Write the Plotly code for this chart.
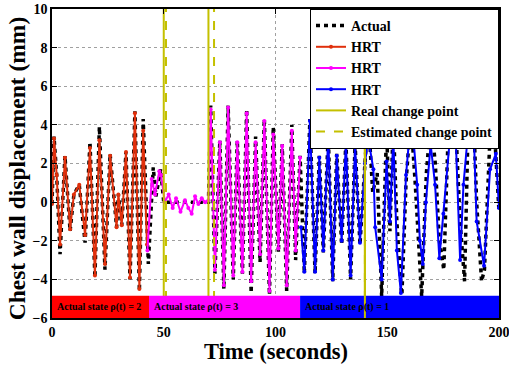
import plotly.graph_objects as go

# ---------------- data ----------------
# Actual chest wall displacement (vertices of the dashed black curve)
actual_t = [0, 0.9, 2.1, 3.6, 5.8, 8.1, 9.8, 12.2, 14.8, 17, 19.2, 21.2, 23.7, 26, 28.9, 29.7, 31.2,
            33.1, 34.9, 37.1, 39.1, 40.8, 43.1, 45.3, 46.5, 48.6, 50, 60, 70,
            71, 72.9, 75.1, 76.9, 78.8, 81.1, 82.9, 85.2, 87.1, 89.1, 91.1, 93.1, 95, 97.3, 99,
            101.3, 103, 105, 107.3, 109, 111, 112.9, 115.4, 117.7, 119.6, 121.4, 123.6, 125.6,
            127.4, 129.6, 131.5, 133.6, 135.6, 137.8, 140,
            141.5, 143.5, 145.5, 147.5, 149.7, 151.2, 152.7, 154.3, 156.5, 158.4, 160.5, 162.5,
            163.6, 165.4, 167.5, 169.5, 171.5, 173.3, 175.3, 177.5, 180.4, 182.6, 184.6, 186.3,
            188.6, 190, 192.2, 193.5, 196, 198.3, 200]
actual_v = [-0.1, 3.4, 1.4, -2.7, 2.4, -1.5, 0.4, 0.9, -2.1, 3.1, -3.9, 3.9, -3.5, 2.5, -1.3, 0.4, -1.2,
            2.6, -4.0, 4.7, -4.6, 4.3, -3.2, 1.8, 0.3, 1.7, 0.0, 0.0, 0.0,
            5.0, -3.7, 3.2, -4.5, 5.0, -4.0, 3.2, -3.7, 4.8, -4.7, 3.4, -3.1, 4.3, -4.8, 3.9,
            -2.6, 3.0, -4.6, 4.0, -3.0, 2.4, -3.7, 4.3, -3.7, 2.4, -2.6, 3.5, -4.1,
            2.5, -2.2, 3.2, -4.0, 3.0, -2.2, 2.0,
            4.5, 0.5, 1.5, -4.9, 3.8, -1.5, 4.2, -1.0, -5.0, 1.0, 4.4, 1.0,
            -1.5, -4.9, 1.5, 4.3, 2.0, -2.0, -3.5, 4.4, 4.5, -1.0, -4.1, 4.5,
            4.5, 0.0, -4.1, -3.5, 3.5, 3.0, -0.5]

# HRT prediction, state 2 (red)
hrt2_t = [0, 0.9, 2.1, 3.6, 5.8, 8.1, 9.8, 12.2, 14.8, 17, 19.2, 21.2, 23.7, 26, 28.9, 29.7, 31.2,
          33.1, 34.9, 37.1, 39.1, 40.8, 42.5]
hrt2_v = [-0.1, 3.3, 1.4, -2.2, 2.3, -1.4, 0.4, 0.9, -1.7, 2.8, -3.8, 3.2, -3.2, 2.4, -1.3, 0.4, -1.2,
          2.6, -3.9, 4.6, -4.5, 3.7, -2.2]

# HRT prediction, state 3 (magenta)
hrt3_t = [42.7, 44.6, 46.1, 48.0, 48.8, 50.5, 52.2, 54.0, 55.5, 57.5, 59.5, 61.0, 62.5, 64.0, 65.5,
          67.0, 68.5, 70, 71, 72.9, 75.1, 76.9, 78.8, 81.1, 82.9, 85.2, 87.1, 89.1, 91.1, 93.1, 95,
          97.3, 99, 101.3, 103, 105, 107.3, 109, 111]
hrt3_v = [-2.5, 1.2, 0.4, 1.6, 1.4, 0.0, 0.4, -0.3, 0.2, -0.5, 0.1, -0.3, -0.6, 0.3, -0.1, 0.2,
          0.0, 0.1, 4.8, -3.5, 3.1, -4.3, 4.9, -3.8, 3.1, -3.6, 4.6, -4.1, 3.1, -2.7, 4.2,
          -4.6, 3.5, -2.4, 2.9, -4.3, 3.7, -2.5, 2.3]

# HRT prediction, state 1 (blue)
hrt1_t = [111.4, 112.9, 115.4, 117.7, 119.6, 121.4, 123.6, 125.6, 127.4, 129.6, 131.5, 133.6, 135.6,
          137.8, 140, 141.5, 143.8, 144.6, 147.5, 149.7, 151.2, 152.7, 154.3, 156.1, 158.4, 160.2,
          161.7, 163.4, 164.6, 165.9, 167.3, 169.4, 171.4, 173.3, 175.1, 177.8, 180.4, 182.6,
          184.1, 186.3, 188.6, 190, 193.3, 196, 198.6, 200]
hrt1_v = [-1.3, -3.6, 4.2, -3.6, 2.3, -2.5, 3.4, -4.0, 2.4, -2.0, 3.1, -3.8, 2.9,
          -2.1, 2.0, 3.3, 1.7, -1.3, -4.0, 2.1, -1.0, 3.4, -2.5, -4.7, 1.4, 3.8,
          3.3, 0.9, -2.0, -3.2, 0.0, 3.0, 0.9, -2.9, -0.6, 3.0, 4.1, -3.0,
          0.9, 3.8, 4.0, -1.0, -3.3, 1.7, 2.5, -0.3]

real_cp = [50, 70, 140]
est_cp = [51, 72.5, 140]

state_labels = ["Actual state \u03c1(t) = 2", "Actual state \u03c1(t) = 3", "Actual state \u03c1(t) = 1"]
state_start = [0, 43.4, 111]
state_end = [43.4, 111, 200]
state_colors = ["#ff0000", "#ff00ff", "#0000ff"]

x_ticks = [0, 50, 100, 150, 200]
y_ticks = [-6, -4, -2, 0, 2, 4, 6, 8, 10]
y_min, y_max = -6, 10
band_top = -4.85

SERIF = "Liberation Serif"
CP_COLOR = "#c4c000"

fig = go.Figure()

fig.add_trace(go.Scatter(x=actual_t, y=actual_v, mode="lines", name="Actual",
                         line=dict(color="black", width=3.5, dash="4px,4px")))
fig.add_trace(go.Scatter(x=hrt2_t, y=hrt2_v, mode="lines+markers", name="HRT",
                         line=dict(color="#e0300c", width=2), marker=dict(size=4)))
fig.add_trace(go.Scatter(x=hrt3_t, y=hrt3_v, mode="lines+markers", name="HRT",
                         line=dict(color="#ff00ff", width=2), marker=dict(size=4)))
fig.add_trace(go.Scatter(x=hrt1_t, y=hrt1_v, mode="lines+markers", name="HRT",
                         line=dict(color="#0000ff", width=2), marker=dict(size=4)))

rx, ry = [], []
for c in real_cp:
    rx += [c, c, None]
    ry += [y_min, y_max, None]
ex, ey = [], []
for c in est_cp:
    ex += [c, c, None]
    ey += [y_min, y_max, None]
fig.add_trace(go.Scatter(x=rx, y=ry, mode="lines", name="Real change point",
                         line=dict(color=CP_COLOR, width=2)))
fig.add_trace(go.Scatter(x=ex, y=ey, mode="lines", name="Estimated change point",
                         line=dict(color=CP_COLOR, width=2, dash="dash")))

# state bands drawn above traces
for s, e, col, lab in zip(state_start, state_end, state_colors, state_labels):
    fig.add_shape(type="rect", x0=s, x1=e, y0=y_min, y1=band_top, xref="x", yref="y",
                  fillcolor=col, line=dict(width=0), layer="above")
    fig.add_annotation(x=s + 1.2, y=(y_min + band_top) / 2, xref="x", yref="y", text="<b>" + lab + "</b>",
                       showarrow=False, xanchor="left", yanchor="middle",
                       font=dict(family=SERIF, size=10, color="black"))
# the last change point line shows over the band
fig.add_shape(type="line", x0=real_cp[2], x1=real_cp[2], y0=y_min, y1=y_max, xref="x", yref="y",
              line=dict(color=CP_COLOR, width=2), layer="above")

# axis titles
fig.add_annotation(x=0.5, y=-0.11, xref="paper", yref="paper", text="<b>Time (seconds)</b>",
                   showarrow=False, xanchor="center", yanchor="middle",
                   font=dict(family=SERIF, size=22.5, color="black"))
fig.add_annotation(x=-0.078, y=0.485, xref="paper", yref="paper", text="<b>Chest wall displacement (mm)</b>",
                   showarrow=False, xanchor="center", yanchor="middle", textangle=-90,
                   font=dict(family=SERIF, size=23.5, color="black"))

axis_common = dict(showline=True, linecolor="black", linewidth=1.5, mirror="ticks",
                   ticks="inside", ticklen=5, tickcolor="black", automargin=False,
                   showgrid=True, gridcolor="#a0a0a0", griddash="dot", gridwidth=1,
                   zeroline=False, ticklabeloverflow="allow",
                   tickfont=dict(family=SERIF, size=14, color="black", weight="bold"))

fig.update_xaxes(range=[0, 200], tickvals=x_ticks, **axis_common)
fig.update_yaxes(range=[y_min, y_max], tickvals=y_ticks, **axis_common)

fig.update_layout(
    width=509, height=367,
    margin=dict(l=52, r=10, t=9, b=49),
    paper_bgcolor="white", plot_bgcolor="white",
    showlegend=True,
    legend=dict(x=1, y=1, xanchor="right", yanchor="top", bgcolor="white",
                bordercolor="black", borderwidth=1, tracegroupgap=0,
                font=dict(family=SERIF, size=14, color="black", weight="bold"),
                itemwidth=30),
)

fig.write_html("out.html", config={"displayModeBar": False},
               post_script="document.body.style.margin='0';")
